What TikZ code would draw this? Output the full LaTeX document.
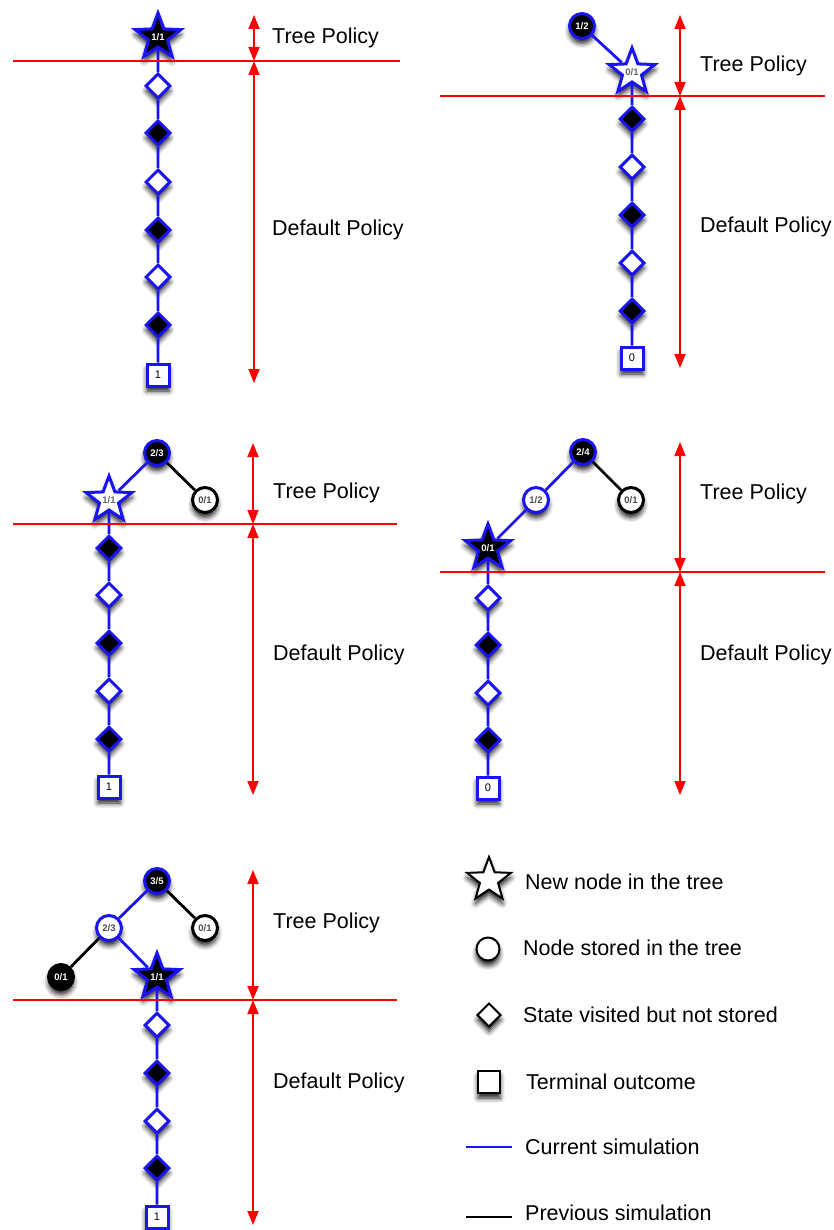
\documentclass[tikz,border=0pt]{standalone}
\usepackage{fontspec}
\setmainfont{Liberation Sans}
\usetikzlibrary{shapes.geometric,arrows.meta,shadows.blur}

\definecolor{simblue}{RGB}{25,20,240}
\definecolor{polred}{RGB}{255,0,0}
\newcommand\nodelbl{\fontsize{9.5}{10}\selectfont\bfseries}
\newcommand\outlbl{\fontsize{11}{12}\selectfont}
\newcommand\txtfont{\fontsize{21.5}{25}\selectfont}

\tikzset{
  nodebase/.style={inner sep=0pt, line width=3pt,
    blur shadow={shadow xshift=0pt, shadow yshift=-5pt, shadow blur radius=5pt, shadow opacity=90}},
  newblack/.style={nodebase, star, star points=5, star point ratio=2.4, minimum size=48pt,
    draw=simblue, fill=black, text=white, font=\nodelbl},
  newwhite/.style={newblack, fill=white, text=black!60},
  treeblack/.style={nodebase, circle, minimum size=25pt, draw=simblue, fill=black, text=white, font=\nodelbl},
  treewhite/.style={treeblack, fill=white, text=black!70},
  oldwhite/.style={treeblack, draw=black, fill=white, text=black!70},
  oldblack/.style={treeblack, draw=black, fill=black, text=white},
  visitw/.style={nodebase, diamond, minimum size=25pt, draw=simblue, fill=white},
  visitb/.style={visitw, fill=black},
  outcome/.style={nodebase, rectangle, minimum size=22pt, draw=simblue, fill=white, font=\outlbl},
  cur/.style={simblue, line width=2.8pt},
  prev/.style={black, line width=2.8pt},
  splitline/.style={polred, line width=1.8pt},
  spanarrow/.style={polred, line width=1.8pt, {Triangle[length=14pt,width=11pt]}-{Triangle[length=14pt,width=11pt]}},
  phasetext/.style={anchor=west, inner sep=0pt, font=\txtfont},
}

\begin{document}
\begin{tikzpicture}[x=1pt, y=-1pt]
    \useasboundingbox (0,0) rectangle (833,1230);

    % Simulace 1
    \node[newblack] (p1s) at (158,37) {1/1};
    \node[visitw] (p1a) at (158,86) {};
    \node[visitb] (p1b) at (158,133) {};
    \node[visitw] (p1c) at (158,182) {};
    \node[visitb] (p1d) at (158,230) {};
    \node[visitw] (p1e) at (158,277) {};
    \node[visitb] (p1f) at (158,325) {};
    \node[outcome] (p1o) at (158,375) {1};
    \draw[cur] (p1s) -- (p1a) -- (p1b) -- (p1c) -- (p1d) -- (p1e) -- (p1f) -- (p1o);
    \draw[splitline] (13,61) -- (400,61);
    \draw[spanarrow] (254,15) -- (254,61);
    \draw[spanarrow] (254,61) -- (254,383);
    \node[phasetext] (p1tp) at (272,38) {Tree Policy};
    \node[phasetext] (p1dp) at (272,230) {Default Policy};

    % Simulace 2
    \node[treeblack] (p2r) at (582,26) {1/2};
    \node[newwhite] (p2s) at (632,72) {0/1};
    \node[visitb] (p2a) at (632,119) {};
    \node[visitw] (p2b) at (632,167) {};
    \node[visitb] (p2c) at (632,215) {};
    \node[visitw] (p2d) at (632,263) {};
    \node[visitb] (p2e) at (632,311) {};
    \node[outcome] (p2o) at (632,358) {0};
    \draw[cur] (p2r) -- (p2s) -- (p2a) -- (p2b) -- (p2c) -- (p2d) -- (p2e) -- (p2o);
    \draw[splitline] (440,96) -- (825,96);
    \draw[spanarrow] (680,15) -- (680,96);
    \draw[spanarrow] (680,96) -- (680,368);
    \node[phasetext] (p2tp) at (700,66) {Tree Policy};
    \node[phasetext] (p2dp) at (700,227) {Default Policy};

    % Simulace 3
    \node[treeblack] (p3r) at (157,453) {2/3};
    \node[newwhite] (p3s) at (109,500) {1/1};
    \node[oldwhite] (p3o) at (205,500) {0/1};
    \node[visitb] (p3a) at (109,548) {};
    \node[visitw] (p3b) at (109,595) {};
    \node[visitb] (p3c) at (109,643) {};
    \node[visitw] (p3d) at (109,691) {};
    \node[visitb] (p3e) at (109,739) {};
    \node[outcome] (p3t) at (109,787) {1};
    \draw[prev] (p3r) -- (p3o);
    \draw[cur] (p3r) -- (p3s) -- (p3a) -- (p3b) -- (p3c) -- (p3d) -- (p3e) -- (p3t);
    \draw[splitline] (13,524) -- (397,524);
    \draw[spanarrow] (253,443) -- (253,524);
    \draw[spanarrow] (253,524) -- (253,795);
    \node[phasetext] (p3tp) at (273,493) {Tree Policy};
    \node[phasetext] (p3dp) at (273,655) {Default Policy};

    % Simulace 4
    \node[treeblack] (p4r) at (583,452) {2/4};
    \node[treewhite] (p4m) at (536,500) {1/2};
    \node[oldwhite] (p4o) at (631,500) {0/1};
    \node[newblack] (p4s) at (488,548) {0/1};
    \node[visitw] (p4a) at (488,598) {};
    \node[visitb] (p4b) at (488,645) {};
    \node[visitw] (p4c) at (488,693) {};
    \node[visitb] (p4d) at (488,740) {};
    \node[outcome] (p4t) at (488,788) {0};
    \draw[prev] (p4r) -- (p4o);
    \draw[cur] (p4r) -- (p4m) -- (p4s) -- (p4a) -- (p4b) -- (p4c) -- (p4d) -- (p4t);
    \draw[splitline] (440,572) -- (825,572);
    \draw[spanarrow] (680,442) -- (680,572);
    \draw[spanarrow] (680,572) -- (680,795);
    \node[phasetext] (p4tp) at (700,494) {Tree Policy};
    \node[phasetext] (p4dp) at (700,655) {Default Policy};

    % Simulace 5
    \node[treeblack] (p5r) at (157,881) {3/5};
    \node[treewhite] (p5m) at (109,928) {2/3};
    \node[oldwhite] (p5o) at (205,928) {0/1};
    \node[oldblack] (p5l) at (61,977) {0/1};
    \node[newblack] (p5s) at (157,977) {1/1};
    \node[visitw] (p5a) at (157,1025) {};
    \node[visitb] (p5b) at (157,1073) {};
    \node[visitw] (p5c) at (157,1121) {};
    \node[visitb] (p5d) at (157,1168) {};
    \node[outcome] (p5t) at (157,1217) {1};
    \draw[prev] (p5r) -- (p5o);
    \draw[prev] (p5m) -- (p5l);
    \draw[cur] (p5r) -- (p5m) -- (p5s) -- (p5a) -- (p5b) -- (p5c) -- (p5d) -- (p5t);
    \draw[splitline] (13,1000) -- (397,1000);
    \draw[spanarrow] (253,870) -- (253,1000);
    \draw[spanarrow] (253,1000) -- (253,1225);
    \node[phasetext] (p5tp) at (273,923) {Tree Policy};
    \node[phasetext] (p5dp) at (273,1083) {Default Policy};

    % Legenda
    \node[newwhite, draw=black, line width=2pt, minimum size=46pt] (lgs) at (489,880) {};
    \node[oldwhite, line width=2pt, minimum size=23pt] (lgc) at (488,949) {};
    \node[visitw, draw=black, line width=2pt, minimum size=24pt] (lgd) at (489,1015) {};
    \node[outcome, draw=black, line width=2pt, minimum size=22pt] (lgq) at (489,1082) {};
    \coordinate (lga) at (466,1147);
    \coordinate (lgb) at (512,1147);
    \coordinate (lgc1) at (466,1217);
    \coordinate (lgc2) at (512,1217);
    \draw[simblue, line width=1.6pt] (lga) -- (lgb);
    \draw[black, line width=1.6pt] (lgc1) -- (lgc2);
    \node[phasetext] (lt1) at (525,882) {New node in the tree};
    \node[phasetext] (lt2) at (523,948) {Node stored in the tree};
    \node[phasetext] (lt3) at (523,1015) {State visited but not stored};
    \node[phasetext] (lt4) at (526,1082) {Terminal outcome};
    \node[phasetext] (lt5) at (525,1147) {Current simulation};
    \node[phasetext] (lt6) at (525,1213) {Previous simulation};
\end{tikzpicture}
\end{document}
